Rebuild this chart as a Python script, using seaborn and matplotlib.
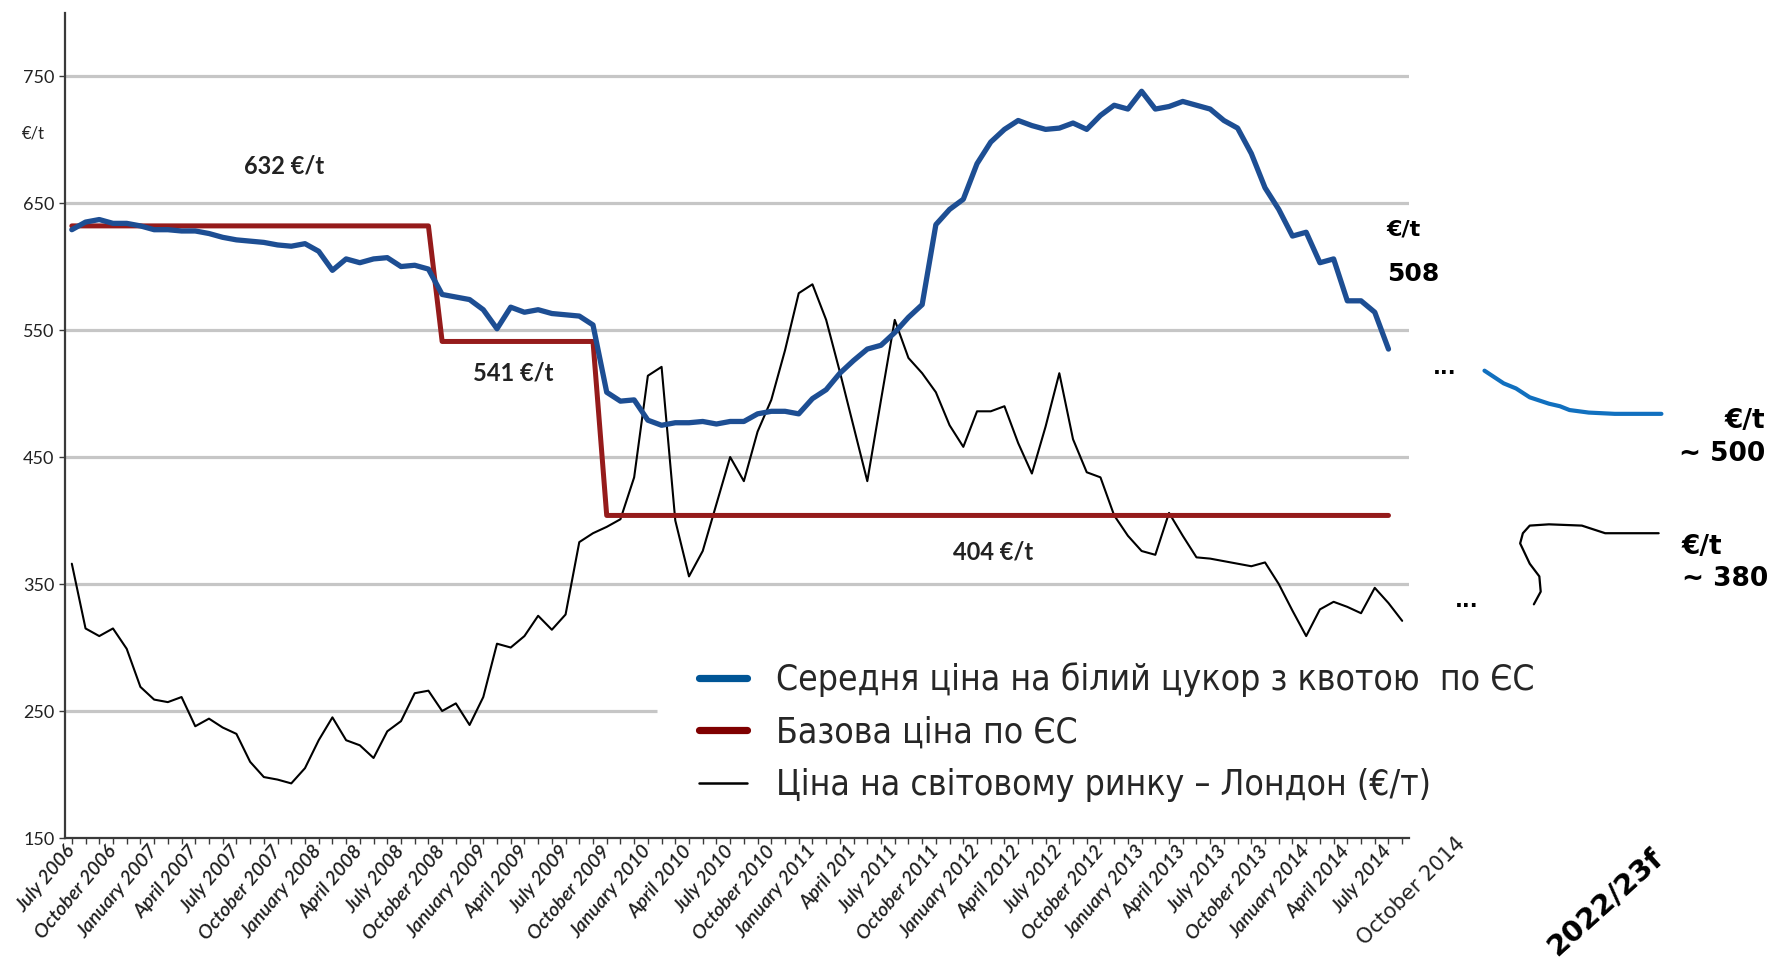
import matplotlib
matplotlib.use("Agg")
import matplotlib.pyplot as plt
from matplotlib.lines import Line2D
import seaborn as sns

# x = months since July 2006 (0 = July 2006)
eu_avg_price = [629, 635, 637, 634, 634, 632, 629, 629, 628, 628, 626, 623, 621, 620, 619, 617, 616, 618, 612, 597,
                606, 603, 606, 607, 600, 601, 598, 578, 576, 574, 566, 551, 568, 564, 566, 563, 562, 561, 554, 501,
                494, 495, 479, 475, 477, 477, 478, 476, 478, 478, 484, 486, 486, 484, 496, 503, 516, 526, 535, 538,
                548, 560, 570, 633, 645, 653, 681, 698, 708, 715, 711, 708, 709, 713, 708, 719, 727, 724, 738, 724,
                726, 730, 727, 724, 715, 709, 689, 662, 645, 624, 627, 603, 606, 573, 573, 564, 535]

world_price = [366, 315, 309, 315, 299, 269, 259, 257, 261, 238, 244, 237, 232, 210, 198, 196, 193, 205, 227, 245,
               227, 223, 213, 234, 242, 264, 266, 250, 256, 239, 261, 303, 300, 309, 325, 314, 326, 383, 390, 395,
               401, 434, 514, 521, 400, 356, 376, 413, 450, 431, 470, 495, 534, 579, 586, 558, 517, 474, 431, 495,
               558, 528, 516, 501, 475, 458, 486, 486, 490, 461, 437, 474, 516, 464, 438, 434, 404, 388, 376, 373,
               406, 388, 371, 370, 368, 366, 364, 367, 350, 329, 309, 330, 336, 332, 327, 347, 335, 321]

ref_months = [0, 26, 27, 38, 39, 96]
ref_price = [632, 632, 541, 541, 404, 404]

# hand-drawn outlook curves to the right of the chart
outlook_eu_x = [103.0, 104.4, 105.3, 106.3, 107.7, 108.5, 109.2, 110.6, 112.5, 115.9]
outlook_eu_y = [518, 508, 504, 497, 492, 490, 487, 485, 484, 484]
outlook_world_x = [106.6, 107.1, 107.0, 106.3, 105.6, 105.8, 106.3, 107.7, 110.1, 111.8, 115.7]
outlook_world_y = [334, 344, 356, 366, 382, 390, 396, 397, 396, 390, 390]

tick_labels = ["July 2006", "October 2006", "January 2007", "April 2007", "July 2007", "October 2007",
               "January 2008", "April 2008", "July 2008", "October 2008", "January 2009", "April 2009",
               "July 2009", "October 2009", "January 2010", "April 2010", "July 2010", "October 2010",
               "January 2011", "April 201", "July 2011", "October 2011", "January 2012", "April 2012",
               "July 2012", "October 2012", "January 2013", "April 2013", "July 2013", "October 2013",
               "January 2014", "April 2014", "July 2014"]
y_ticks = [150, 250, 350, 450, 550, 650, 750]

legend_labels = ["Середня ціна на білий цукор з квотою  по ЄС", "Базова ціна по ЄС",
                 "Ціна на світовому ринку – Лондон (€/т)"]

sns.set_style("white")
plt.rcParams['font.family'] = ['Lato', 'DejaVu Sans']

fig = plt.figure(figsize=(17.8, 9.65), dpi=100)
ax = fig.add_axes([0.0365, 0.1316, 0.7551, 0.8554])

grid_c = "#c6c6c6"
ax.hlines([350, 450, 550, 650, 750], -0.5, 97.5, color=grid_c, lw=2.3, zorder=1)
ax.hlines(250, -0.5, 42.7, color=grid_c, lw=2.3, zorder=1)

sns.lineplot(x=list(range(len(world_price))), y=world_price, color="black", lw=1.5, ax=ax, zorder=3)
sns.lineplot(x=ref_months, y=ref_price, color="#951b1b", lw=3.6, ax=ax, zorder=4)
sns.lineplot(x=list(range(len(eu_avg_price))), y=eu_avg_price, color="#1d4e93", lw=3.8, ax=ax, zorder=5)

sns.lineplot(x=outlook_eu_x, y=outlook_eu_y, color="#1170bf", lw=3.0, ax=ax, sort=False,
             estimator=None, clip_on=False)
sns.lineplot(x=outlook_world_x, y=outlook_world_y, color="black", lw=1.6, ax=ax, sort=False,
             estimator=None, clip_on=False)

ax.set_xlim(-0.5, 97.5)
ax.set_ylim(150, 800)
sns.despine(ax=ax)
for s in ["left", "bottom"]:
    ax.spines[s].set_color("#3a3a3a")
    ax.spines[s].set_linewidth(1.6)

ax.set_yticks(y_ticks)
ax.set_yticklabels([str(v) for v in y_ticks], fontsize=13, color="#222222")
ax.set_xticks(range(0, 97, 3))
ax.set_xticks(range(0, 98), minor=True)
ax.set_xticklabels(tick_labels, rotation=50, ha="right", va="center", rotation_mode="anchor",
                   fontsize=14, fontstyle="italic", fontweight="semibold", color="#1e1e1e")
ax.tick_params(axis="both", which="both", direction="out", length=4, width=1, color="#3a3a3a",
               bottom=True, left=True)
ax.tick_params(axis="x", pad=3)
ax.set_xlabel("")
ax.set_ylabel("")

fig.text(0.019, 0.862, "€/t", fontsize=12, ha="center", va="center", color="#222222")

bold_lbl = dict(fontsize=17, fontweight="bold", ha="center", va="center", color="#222222")
ax.text(15.5, 679, "632 €/t", **bold_lbl)
ax.text(32.2, 516, "541 €/t", **bold_lbl)
ax.text(67.2, 375, "404 €/t", **bold_lbl)

dv = dict(family="DejaVu Sans", fontweight="bold", color="black")
ax.text(97.1, 629, "€/t", fontsize=16, ha="center", va="center", **dv)
ax.text(97.8, 594, "508", fontsize=18, ha="center", va="center", **dv)
ax.text(100.1, 520, "...", fontsize=15, ha="center", va="center", **dv)
ax.text(101.7, 337, "...", fontsize=15, ha="center", va="center", **dv)
ax.text(123.5, 478, "€/t", fontsize=19, ha="right", va="center", **dv)
ax.text(123.5, 452, "~ 500", fontsize=19, ha="right", va="center", **dv)
ax.text(117.4, 379, "€/t", fontsize=19, ha="left", va="center", **dv)
ax.text(117.4, 354, "~ 380", fontsize=19, ha="left", va="center", **dv)

fig.text(0.7927, 0.0767, "October 2014", family="DejaVu Sans", fontsize=15, rotation=45,
         ha="center", va="center", color="#222222")
fig.text(0.902, 0.0653, "2022/23f", fontsize=21, rotation=42, ha="center", va="center", **dv)

handles = [Line2D([], [], color="#005596", lw=5.2),
           Line2D([], [], color="#7f0000", lw=5.2),
           Line2D([], [], color="black", lw=1.8)]
fig.legend(handles, legend_labels, loc="upper left", bbox_to_anchor=(0.3826, 0.332), frameon=False,
           borderpad=0, handlelength=1.35, handletextpad=0.82, labelspacing=0.52,
           prop=dict(family="DejaVu Sans", stretch="condensed", size=25.5))

fig.savefig("out.png", dpi=100)
